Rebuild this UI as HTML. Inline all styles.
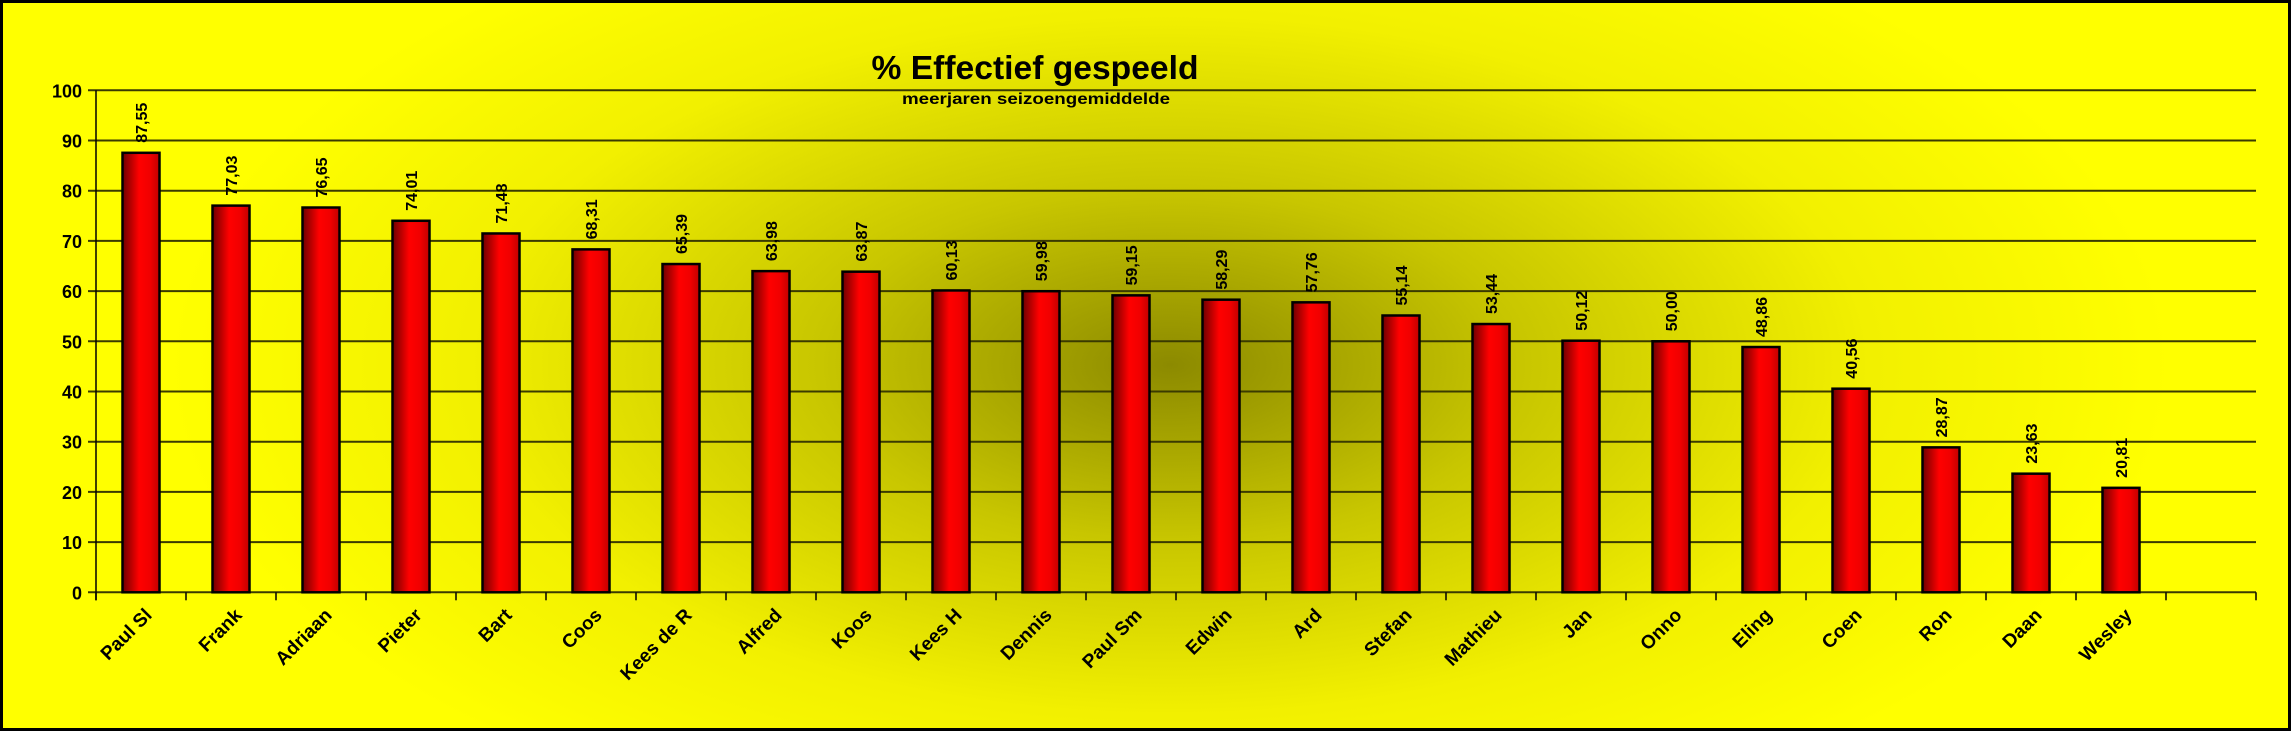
<!DOCTYPE html>
<html><head><meta charset="utf-8"><style>
html,body{margin:0;padding:0;background:#fff}
svg{display:block;font-family:"Liberation Sans",Arial,sans-serif}
</style></head><body>
<svg id="chart" width="2291" height="731" viewBox="0 0 2291 731">
<defs>
<radialGradient id="bg" cx="1170" cy="365" r="1000" gradientUnits="userSpaceOnUse" gradientTransform="translate(1170 365) scale(1 0.5) translate(-1170 -365)">
<stop offset="0" stop-color="#8c8a00"/>
<stop offset="0.35" stop-color="#c8c600"/>
<stop offset="0.7" stop-color="#f2f000"/>
<stop offset="1" stop-color="#ffff00"/>
</radialGradient>
<linearGradient id="barg" x1="0" x2="1" y1="0" y2="0">
<stop offset="0" stop-color="#6e0000"/>
<stop offset="0.45" stop-color="#ff0000"/>
<stop offset="0.75" stop-color="#f00000"/>
<stop offset="1" stop-color="#c00000"/>
</linearGradient>
</defs>
<rect x="1.5" y="1.5" width="2288" height="728" fill="url(#bg)" stroke="#000" stroke-width="3"/>
<text x="1035" y="79" text-anchor="middle" font-size="33" font-weight="bold" textLength="327" lengthAdjust="spacingAndGlyphs">% Effectief gespeeld</text>
<text x="1036" y="104" text-anchor="middle" font-size="16" font-weight="bold" textLength="268" lengthAdjust="spacingAndGlyphs">meerjaren seizoengemiddelde</text>
<g id="grid"></g>
<g id="bars"></g>
<g id="labels"></g>
</svg>
<script>
const categories = ["Paul Sl","Frank","Adriaan","Pieter","Bart","Coos","Kees de R","Alfred","Koos","Kees H","Dennis","Paul Sm","Edwin","Ard","Stefan","Mathieu","Jan","Onno","Eling","Coen","Ron","Daan","Wesley"];
const values = [87.55,77.03,76.65,74.01,71.48,68.31,65.39,63.98,63.87,60.13,59.98,59.15,58.29,57.76,55.14,53.44,50.12,50.00,48.86,40.56,28.87,23.63,20.81];
const yTicks = [0,10,20,30,40,50,60,70,80,90,100];
const slotCount = 24;

const NS = "http://www.w3.org/2000/svg";
const left = 96, right = 2256, y0 = 592.3, y100 = 90.3;
const slot = (right - left) / slotCount;
const barW = 37;
function yScale(v){ return y0 - (v/100)*(y0 - y100); }
function xCenter(i){ return left + slot*(i+0.5); }
function mk(tag, attrs, parent){ const e=document.createElementNS(NS,tag); for(const k in attrs) e.setAttribute(k,attrs[k]); parent.appendChild(e); return e; }
const grid=document.getElementById('grid'), bars=document.getElementById('bars'), labels=document.getElementById('labels');

yTicks.forEach(t=>{
  const y=yScale(t);
  const l=mk('line',{x1:left-8,x2:right,y1:y,y2:y,stroke:'#3a3a00','stroke-width':2},grid);
  
  
  const tx=mk('text',{x:left-14,y:y+7,'text-anchor':'end','font-size':18,'font-weight':'bold'},grid);
  tx.textContent=t;
  
  
});
const ax=mk('line',{x1:left,x2:left,y1:y100,y2:y0+8,stroke:'#000','stroke-width':1.5},grid);


for(let i=0;i<=slotCount;i++){
  const x=left+slot*i;
  const tk=mk('line',{x1:x,x2:x,y1:y0,y2:y0+8,stroke:'#000','stroke-width':1.5},grid);
  
  
}
categories.forEach((c,i)=>{
  const v=values[i], cx=xCenter(i), top=yScale(v);
  const r=mk('rect',{x:cx-barW/2,y:top,width:barW,height:y0-top,fill:'url(#barg)',stroke:'#000','stroke-width':2.5},bars);
  
  
  const vl=mk('text',{x:cx+6,y:top-10,'font-size':16,'font-weight':'bold',transform:`rotate(-90 ${cx+6} ${top-10})`},labels);
  vl.textContent=v.toFixed(2).replace('.',',');
  
  
  const lx=cx+12, ly=y0+24;
  const cl=mk('text',{x:lx,y:ly,'text-anchor':'end','font-size':19,'font-weight':'bold',transform:`rotate(-45 ${lx} ${ly})`},labels);
  cl.textContent=c;
  
  
});
</script>
</body></html>
